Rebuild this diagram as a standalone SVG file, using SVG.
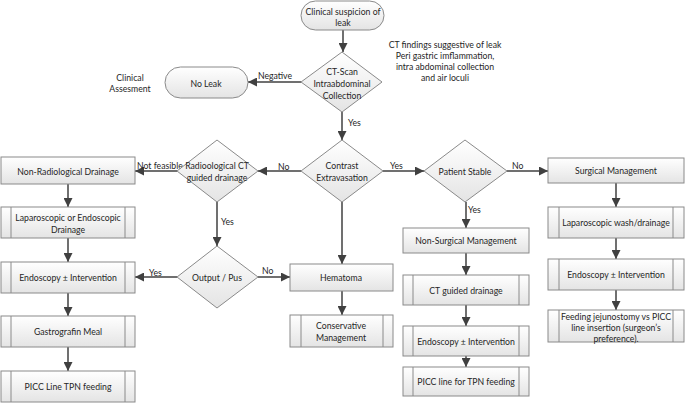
<svg xmlns="http://www.w3.org/2000/svg" width="685" height="411" viewBox="0 0 685 411">
<defs>
<linearGradient id="g" x1="0" y1="0" x2="0" y2="1"><stop offset="0" stop-color="#ffffff"/><stop offset="1" stop-color="#e4e4e4"/></linearGradient>
<marker id="ah" viewBox="0 0 10 10" refX="10" refY="5" markerWidth="9" markerHeight="9" markerUnits="userSpaceOnUse" orient="auto"><path d="M0,0 L10,5 L0,10 z" fill="#404040"/></marker>
<style>
.n{fill:url(#g);stroke:#8a8a8a;stroke-width:1}
.i{stroke:#8a8a8a;stroke-width:1;fill:none}
.t{font-family:Lato,"Liberation Sans",sans-serif;font-size:8.7px;fill:#262626;text-anchor:middle;dominant-baseline:central}
.l{font-family:Lato,"Liberation Sans",sans-serif;font-size:8.7px;fill:#262626;dominant-baseline:central}
.c{stroke:#404040;stroke-width:1.5;fill:none;marker-end:url(#ah)}
</style>
</defs>
<rect width="685" height="411" fill="#ffffff"/>
<g id="connectors">
<path class="c" d="M343,30 L343,52"/>
<path class="c" d="M301,82 L248,82"/>
<path class="c" d="M342,112 L342,140"/>
<path class="c" d="M301,171 L258,171"/>
<path class="c" d="M177,171 L135,171"/>
<path class="c" d="M383,171 L424,171"/>
<path class="c" d="M507,171 L548,171"/>
<path class="c" d="M68,184 L68,207"/>
<path class="c" d="M68,238 L68,262"/>
<path class="c" d="M68,293 L68,316"/>
<path class="c" d="M68,347 L68,371"/>
<path class="c" d="M217,202 L217,246"/>
<path class="c" d="M177,277 L135,277"/>
<path class="c" d="M258,277 L290,277"/>
<path class="c" d="M342,202 L342,264"/>
<path class="c" d="M342,291 L342,315"/>
<path class="c" d="M466,202 L466,228"/>
<path class="c" d="M466,253 L466,275"/>
<path class="c" d="M466,305 L466,326"/>
<path class="c" d="M466,356 L466,367"/>
<path class="c" d="M616,183 L616,207"/>
<path class="c" d="M616,238 L616,259"/>
<path class="c" d="M616,290 L616,310"/>
<text class="l" x="275" y="75" text-anchor="middle">Negative</text>
<text class="l" x="348" y="122">Yes</text>
<text class="l" x="278" y="166">No</text>
<text class="l" x="137" y="165">Not feasible</text>
<text class="l" x="221" y="221">Yes</text>
<text class="l" x="390" y="165">Yes</text>
<text class="l" x="512" y="165">No</text>
<text class="l" x="468" y="209">Yes</text>
<text class="l" x="149" y="272">Yes</text>
<text class="l" x="262" y="270">No</text>
</g>
<g id="start"><rect class="n" x="301" y="1" width="83" height="29" rx="14.5"/><text class="t" x="343" y="11">Clinical suspicion of</text><text class="t" x="343" y="22">leak</text></g>
<g id="note"><text class="t" x="445" y="44">CT findings suggestive of leak</text><text class="t" x="445" y="55">Peri gastric imflammation,</text><text class="t" x="445" y="66">intra abdominal collection</text><text class="t" x="445" y="77">and air loculi</text></g>
<g id="ctscan"><polygon class="n" points="342,52 382,82 342,112 301,82"/><text class="t" x="342" y="71">CT-Scan</text><text class="t" x="342" y="83">Intraabdominal</text><text class="t" x="342" y="95">Collection</text></g>
<g id="noleak"><rect class="n" x="165" y="67" width="83" height="31" rx="15.5"/><text class="t" x="206" y="83">No Leak</text></g>
<g id="clinical"><text class="t" x="130" y="77">Clinical</text><text class="t" x="130" y="88">Assesment</text></g>
<g id="contrast"><polygon class="n" points="342,140 383,171 342,202 301,171"/><text class="t" x="342" y="165">Contrast</text><text class="t" x="342" y="177">Extravasation</text></g>
<g id="radiological"><polygon class="n" points="217,140 258,171 217,202 177,171"/><text class="t" x="217" y="165">Radioological CT</text><text class="t" x="217" y="177">guided drainage</text></g>
<g id="stable"><polygon class="n" points="465,140 507,171 465,202 424,171"/><text class="t" x="465" y="171">Patient Stable</text></g>
<g id="nonrad"><rect class="n" x="1" y="157" width="134" height="27"/><text class="t" x="68" y="171">Non-Radiological Drainage</text></g>
<g id="lapendo"><rect class="n" x="1" y="207" width="134" height="31"/><path class="i" d="M11,207V238M125,207V238"/><text class="t" x="68" y="217">Laparoscopic or Endoscopic</text><text class="t" x="68" y="229">Drainage</text></g>
<g id="output"><polygon class="n" points="217,246 258,277 217,308 177,277"/><text class="t" x="217" y="277">Output / Pus</text></g>
<g id="endoleft"><rect class="n" x="1" y="262" width="134" height="31"/><path class="i" d="M11,262V293M125,262V293"/><text class="t" x="68" y="277">Endoscopy ± Intervention</text></g>
<g id="gastro"><rect class="n" x="1" y="316" width="134" height="31"/><path class="i" d="M11,316V347M125,316V347"/><text class="t" x="68" y="331">Gastrografin Meal</text></g>
<g id="piccleft"><rect class="n" x="1" y="371" width="134" height="31"/><path class="i" d="M11,371V402M125,371V402"/><text class="t" x="68" y="386">PICC Line TPN feeding</text></g>
<g id="hematoma"><rect class="n" x="290" y="264" width="103" height="27"/><text class="t" x="341" y="277">Hematoma</text></g>
<g id="conservative"><rect class="n" x="290" y="315" width="103" height="32"/><path class="i" d="M301,315V347M383,315V347"/><text class="t" x="341" y="325">Conservative</text><text class="t" x="341" y="337">Management</text></g>
<g id="nonsurg"><rect class="n" x="403" y="228" width="126" height="25"/><text class="t" x="466" y="240">Non-Surgical Management</text></g>
<g id="ctguided"><rect class="n" x="403" y="275" width="126" height="30"/><path class="i" d="M413,275V305M519,275V305"/><text class="t" x="466" y="290">CT guided drainage</text></g>
<g id="endomid"><rect class="n" x="403" y="326" width="126" height="30"/><path class="i" d="M413,326V356M519,326V356"/><text class="t" x="466" y="341">Endoscopy ± Intervention</text></g>
<g id="piccmid"><rect class="n" x="403" y="367" width="126" height="29"/><path class="i" d="M413,367V396M519,367V396"/><text class="t" x="466" y="381">PICC line for TPN feeding</text></g>
<g id="surgical"><rect class="n" x="548" y="158" width="136" height="25"/><text class="t" x="616" y="170">Surgical Management</text></g>
<g id="lapwash"><rect class="n" x="548" y="207" width="136" height="31"/><path class="i" d="M559,207V238M673,207V238"/><text class="t" x="616" y="222">Laparoscopic wash/drainage</text></g>
<g id="enderight"><rect class="n" x="548" y="259" width="136" height="31"/><path class="i" d="M559,259V290M673,259V290"/><text class="t" x="616" y="274">Endoscopy ± Intervention</text></g>
<g id="feeding"><rect class="n" x="548" y="310" width="136" height="32"/><path class="i" d="M559,310V342M673,310V342"/><text class="t" x="616" y="316">Feeding jejunostomy vs PICC</text><text class="t" x="616" y="327">line insertion (surgeon’s</text><text class="t" x="616" y="338">preference).</text></g>
</svg>
